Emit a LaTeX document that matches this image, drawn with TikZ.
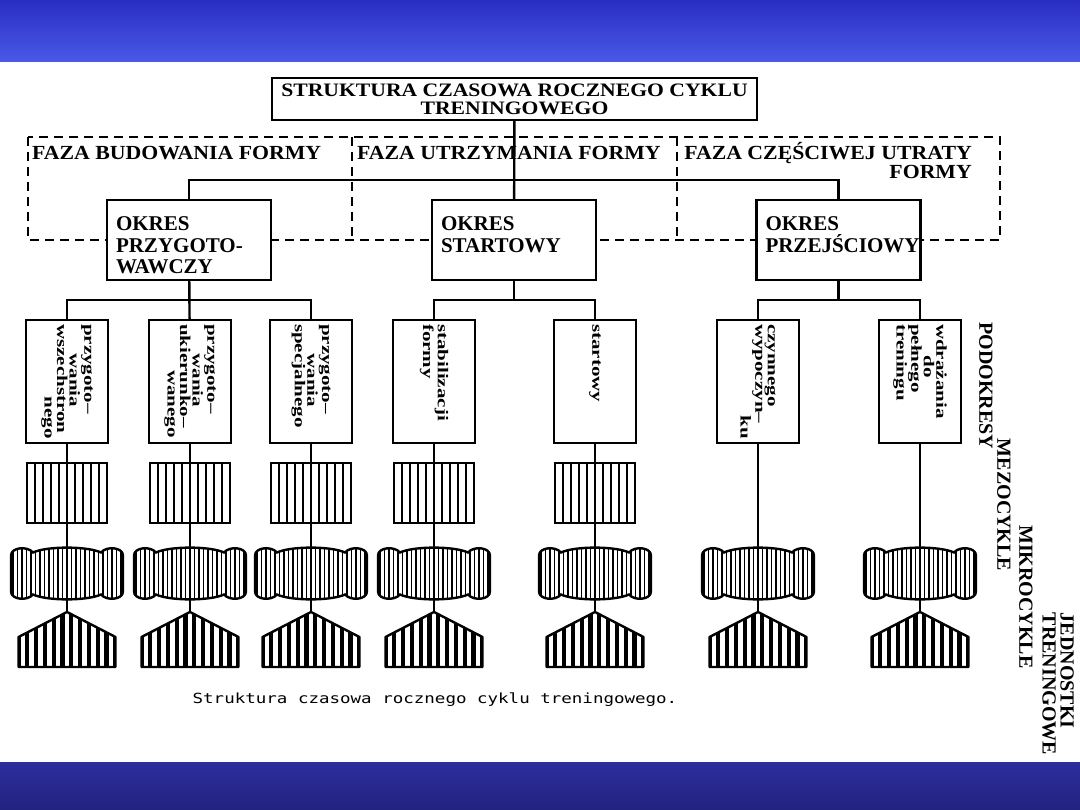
\documentclass[tikz,border=0pt]{standalone}
\usepackage{fontspec}
\usepackage{graphicx}
\setmainfont{Liberation Serif}
\newfontfamily\tytulfont[FakeStretch=1.14]{Liberation Serif}
\newfontfamily\fazafont[FakeStretch=1.09]{Liberation Serif}
\newfontfamily\capfont{DejaVu Sans Mono}
\usetikzlibrary{positioning}
\definecolor{BandTop}{HTML}{2A2DC2}
\definecolor{BandMid}{HTML}{4959E8}
\definecolor{BandLow}{HTML}{2D2E9C}
\definecolor{BandDeep}{HTML}{222280}

% text of the period boxes, set from the top
\newcommand\okrestext[1]{\parbox[c][72pt][t]{146pt}{\raggedright\vspace*{13pt}#1}}
% rotated text inside the sub-period boxes
\newcommand\podtext[1]{\rotatebox{-90}{\scalebox{1.4}[1]{\parbox{82pt}{\raggedright #1}}}}
% outlines of the cycle symbols (around the node centre, y down)
\newcommand\mikropath{(-56,-18) .. controls (-56,-26) and (-40,-28) .. (-34,-21)
  .. controls (-20,-27.5) and (20,-27.5) .. (34,-21)
  .. controls (40,-28) and (56,-26) .. (56,-18) -- (56,18)
  .. controls (56,26) and (40,28) .. (34,21)
  .. controls (20,27.5) and (-20,27.5) .. (-34,21)
  .. controls (-40,28) and (-56,26) .. (-56,18) -- cycle}
\newcommand\jednpath{(0,-27.5) -- (48.5,-2.5) -- (48.5,27.5) -- (-48.5,27.5) -- (-48.5,-2.5) -- cycle}

\tikzset{
  box/.style={draw, line width=2.4pt, fill=white, outer sep=0pt},
  tytul/.style={box, minimum width=485pt, minimum height=42pt, inner sep=2pt, align=center, font=\tytulfont\bfseries\fontsize{19}{18}\selectfont},
  okres/.style={box, minimum width=164pt, minimum height=80pt, inner sep=4pt, font=\bfseries\fontsize{21}{21.5}\selectfont},
  pod/.style={box, minimum width=82pt, minimum height=123pt, inner sep=0pt, font=\bfseries\fontsize{15}{12.5}\selectfont},
  meso/.style={box, minimum width=80pt, minimum height=60pt, inner sep=0pt,
    path picture={\foreach \i in {-32,-24,...,32} \draw[line width=1.6pt, shift={(path picture bounding box.center)}] (\i,-32) -- (\i,32);}},
  mikro/.style={minimum width=116pt, minimum height=57pt, inner sep=0pt, outer sep=-2pt,
    path picture={\begin{scope}[shift={(path picture bounding box.center)}]
      \fill[white] \mikropath;
      \begin{scope}
        \clip \mikropath;
        \foreach \i in {-54,-49.5,...,54} \draw[line width=1.1pt] (\i,-30) -- (\i,30);
      \end{scope}
      \draw[line width=2.4pt] \mikropath;
    \end{scope}}},
  jedn/.style={minimum width=101pt, minimum height=59pt, inner sep=0pt, outer sep=-2pt,
    path picture={\begin{scope}[shift={(path picture bounding box.center)}]
      \begin{scope}
        \clip \jednpath;
        \foreach \i in {-48.5,-39.7,...,49} \draw[line width=4.2pt] (\i,-30) -- (\i,30);
      \end{scope}
      \draw[line width=2.4pt, line join=round] \jednpath;
    \end{scope}}},
  conn/.style={line width=2.4pt},
  ramka/.style={line width=2.4pt, dash pattern=on 9pt off 6pt},
  faza/.style={inner sep=0pt, font=\fazafont\bfseries\fontsize{20}{19}\selectfont},
  etap/.style={inner sep=0pt, rotate=-90, font=\bfseries\fontsize{20}{18}\selectfont}
}

\begin{document}
\begin{tikzpicture}[x=1pt, y=-1pt]
  \useasboundingbox (0,0) rectangle (1080,810);
  \fill[white] (0,0) rectangle (1080,810);
  \shade[top color=BandTop, bottom color=BandMid] (0,0) rectangle (1080,62);
  \shade[top color=BandLow, bottom color=BandDeep] (0,762) rectangle (1080,810);

  % phases
  \draw[ramka] (28,137) rectangle (1000,240);
  \draw[ramka] (352,137) -- (352,240);
  \draw[ramka] (677,137) -- (677,240);
  \node[faza, anchor=north west] (faza1) at (32,146) {FAZA BUDOWANIA FORMY};
  \node[faza, anchor=north west] (faza2) at (357,146) {FAZA UTRZYMANIA FORMY};
  \node[faza, anchor=north east, align=right] (faza3) at (972,142) {FAZA CZĘŚCIWEJ UTRATY\\FORMY};

  \node[tytul] (tytul) at (514.5,99) {STRUKTURA CZASOWA ROCZNEGO CYKLU\\TRENINGOWEGO};

  \node[okres] (okres1) at (189,240) {\okrestext{OKRES\\PRZYGOTO-\\WAWCZY}};
  \node[okres] (okres2) at (514,240) {\okrestext{OKRES\\STARTOWY}};
  \node[okres] (okres3) at (838.5,240) {\okrestext{OKRES\\PRZEJŚCIOWY}};

  \node[pod] (pod1) at (67,381.5) {\podtext{przygoto–\\\hspace*{1.4em}wania\\wszechstron\\\hfill nego}};
  \node[pod] (pod2) at (190,381.5) {\podtext{przygoto–\\\hspace*{1.4em}wania\\ukierunko–\\\hspace*{2.2em}wanego}};
  \node[pod] (pod3) at (311,381.5) {\podtext{przygoto–\\\hspace*{1.4em}wania\\specjalnego}};
  \node[pod] (pod4) at (434,381.5) {\podtext{stabilizacji\\formy}};
  \node[pod] (pod5) at (595,381.5) {\podtext{startowy}};
  \node[pod] (pod6) at (758,381.5) {\podtext{czynnego\\wypoczyn–\\\hfill ku}};
  \node[pod] (pod7) at (920,381.5) {\podtext{wdrażania\\\hspace*{1.5em}do\\pełnego\\treningu}};

  \node[meso, below=20pt of pod1] (meso1) {};
  \node[meso, below=20pt of pod2] (meso2) {};
  \node[meso, below=20pt of pod3] (meso3) {};
  \node[meso, below=20pt of pod4] (meso4) {};
  \node[meso, below=20pt of pod5] (meso5) {};

  \node[mikro, below=24pt of meso1] (mikro1) {};
  \node[mikro, below=24pt of meso2] (mikro2) {};
  \node[mikro, below=24pt of meso3] (mikro3) {};
  \node[mikro, below=24pt of meso4] (mikro4) {};
  \node[mikro, below=24pt of meso5] (mikro5) {};
  \node[mikro, below=104pt of pod6] (mikro6) {};
  \node[mikro, below=104pt of pod7] (mikro7) {};

  \foreach \k in {1,...,7}
    \node[jedn, below=12pt of mikro\k] (jedn\k) {};

  % right-hand labels
  \node[etap] (lpod) at (986,386) {PODOKRESY};
  \node[etap] (lmeso) at (1004,505) {MEZOCYKLE};
  \node[etap] (lmikro) at (1026,597) {MIKROCYKLE};
  \node[etap, align=left] (ljedn) at (1058,684) {JEDNOSTKI\\TRENINGOWE};

  \node[font=\capfont\fontsize{14}{16}\selectfont] (podpis) at (435,700) {\scalebox{1.25}[1]{Struktura czasowa rocznego cyklu treningowego.}};

  % tree
  \draw[conn] (tytul) -- (okres2);
  \draw[conn] (okres1.north) -- ++(0,-20) -| (okres3.north);
  \draw[conn] (okres1) -- (pod2);
  \draw[conn] (pod1.north) -- ++(0,-20) -| (pod3.north);
  \draw[conn] (okres2.south) -- ++(0,20) coordinate (b2);
  \draw[conn] (pod4.north) |- (b2) -| (pod5.north);
  \draw[conn] (okres3.south) -- ++(0,20) coordinate (b3);
  \draw[conn] (pod6.north) |- (b3) -| (pod7.north);
  \foreach \k in {1,...,5}
    \draw[conn] (pod\k) -- (meso\k) -- (mikro\k) -- (jedn\k);
  \draw[conn] (pod6) -- (mikro6) -- (jedn6);
  \draw[conn] (pod7) -- (mikro7) -- (jedn7);
\end{tikzpicture}
\end{document}
